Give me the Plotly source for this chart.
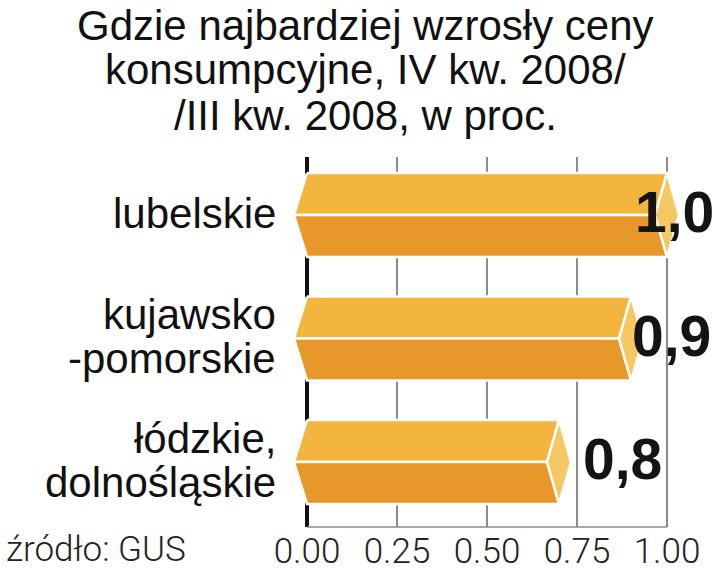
import plotly.graph_objects as go

# ---- data ----
categories = ["lubelskie", "kujawsko\n-pomorskie", "łódzkie,\ndolnośląskie"]
bar_lengths = [1.0, 0.9, 0.7]          # bar lengths as drawn
value_labels = ["1,0", "0,9", "0,8"]   # printed values
tick_vals = [0, 0.25, 0.5, 0.75, 1.0]
tick_text = ["0.00", "0.25", "0.50", "0.75", "1.00"]
title_lines = ["Gdzie najbardziej wzrosły ceny",
               "konsumpcyjne, IV kw. 2008/",
               "/III kw. 2008, w proc."]
source = "źródło: GUS"

# ---- layout geometry / style ----
W, H = 720, 569
ML, MR, MT, MB = 290, 20, 157, 42
PW, PH = W - ML - MR, H - MT - MB
X_PER_UNIT = 360.0
x0 = -17 / X_PER_UNIT
xr = [x0, x0 + PW / X_PER_UNIT]
Y_PER_UNIT = 123.5
yr = [2 + 65 / Y_PER_UNIT, -58 / Y_PER_UNIT]
px_x = 1 / X_PER_UNIT
px_y = 1 / Y_PER_UNIT
half = 42 * px_y
tip = 12 * px_x
lpt = 13 * px_x

C_TOP = "#F3B53E"
C_BOT = "#E8982A"
C_CAP = "#F5C765"
TXT_FONT = "Liberation Sans, Arial, sans-serif"

fig = go.Figure()
for i, v in enumerate(bar_lengths):
    yc = i
    top, bot = yc - half, yc + half
    fig.add_trace(go.Scatter(
        x=[0, v, v - tip, -lpt, 0], y=[top, top, yc, yc, top],
        fill="toself", fillcolor=C_TOP, mode="lines",
        line=dict(color="white", width=2.5), hoverinfo="skip", showlegend=False))
    fig.add_trace(go.Scatter(
        x=[-lpt, v - tip, v, 0, -lpt], y=[yc, yc, bot, bot, yc],
        fill="toself", fillcolor=C_BOT, mode="lines",
        line=dict(color="white", width=2.5), hoverinfo="skip", showlegend=False))
    fig.add_trace(go.Scatter(
        x=[v, v + tip, v, v - tip, v], y=[top, yc, bot, yc, top],
        fill="toself", fillcolor=C_CAP, mode="lines",
        line=dict(color="white", width=2.5), hoverinfo="skip", showlegend=False))

label_shift = [-34, -1, 22]
annotations = []
for i, lab in enumerate(value_labels):
    annotations.append(dict(
        x=bar_lengths[i], y=i, xref="x", yref="y", text=lab, showarrow=False,
        xanchor="left", yanchor="middle", xshift=label_shift[i], yshift=3,
        font=dict(family="Liberation Sans", size=57, color="#141414", weight="bold")))

for i, cat in enumerate(categories):
    lines = cat.split("\n")
    n = len(lines)
    for k, ln in enumerate(lines):
        annotations.append(dict(
            x=-12 / PW, y=i, xref="paper", yref="y", text=ln, showarrow=False,
            xanchor="right", yanchor="middle", yshift=((n - 1) / 2 - k) * 44 + 2,
            font=dict(family=TXT_FONT, size=42, color="#111111")))

title_centers = [25, 70, 115]
for ln, cy in zip(title_lines, title_centers):
    annotations.append(dict(
        x=(365 - ML) / PW, y=(H - MB - cy) / PH, xref="paper", yref="paper",
        text=ln, showarrow=False, xanchor="center", yanchor="middle",
        font=dict(family=TXT_FONT, size=42, color="#111111")))

annotations.append(dict(
    x=(4 - ML) / PW, y=(H - MB - 549) / PH, xref="paper", yref="paper",
    text=source, showarrow=False, xanchor="left", yanchor="middle",
    font=dict(family="Roboto", size=35, color="#222222", weight=300)))

fig.update_layout(
    width=W, height=H,
    margin=dict(l=ML, r=MR, t=MT, b=MB, pad=0, autoexpand=False),
    paper_bgcolor="white", plot_bgcolor="white",
    annotations=annotations,
    shapes=[dict(type="line", xref="x", yref="paper", x0=tick_vals[0], x1=tick_vals[-1],
                 y0=0, y1=0, line=dict(color="#8c8c8c", width=1.5))],
    xaxis=dict(range=xr, tickvals=tick_vals, ticktext=tick_text, automargin=False,
               showgrid=True, gridcolor="#8c8c8c", gridwidth=1.5,
               zeroline=True, zerolinecolor="#111111", zerolinewidth=3.5,
               showline=False, ticks="", ticklabelstandoff=0,
               tickfont=dict(family="Roboto", size=35, color="#222222", weight=300),
               fixedrange=True),
    yaxis=dict(range=yr, showgrid=False, zeroline=False, showticklabels=False,
               automargin=False,
               showline=False, ticks="", fixedrange=True),
    showlegend=False,
)

fig.write_html("out.html", config={"displayModeBar": False},
               post_script="document.body.style.margin='0';")
